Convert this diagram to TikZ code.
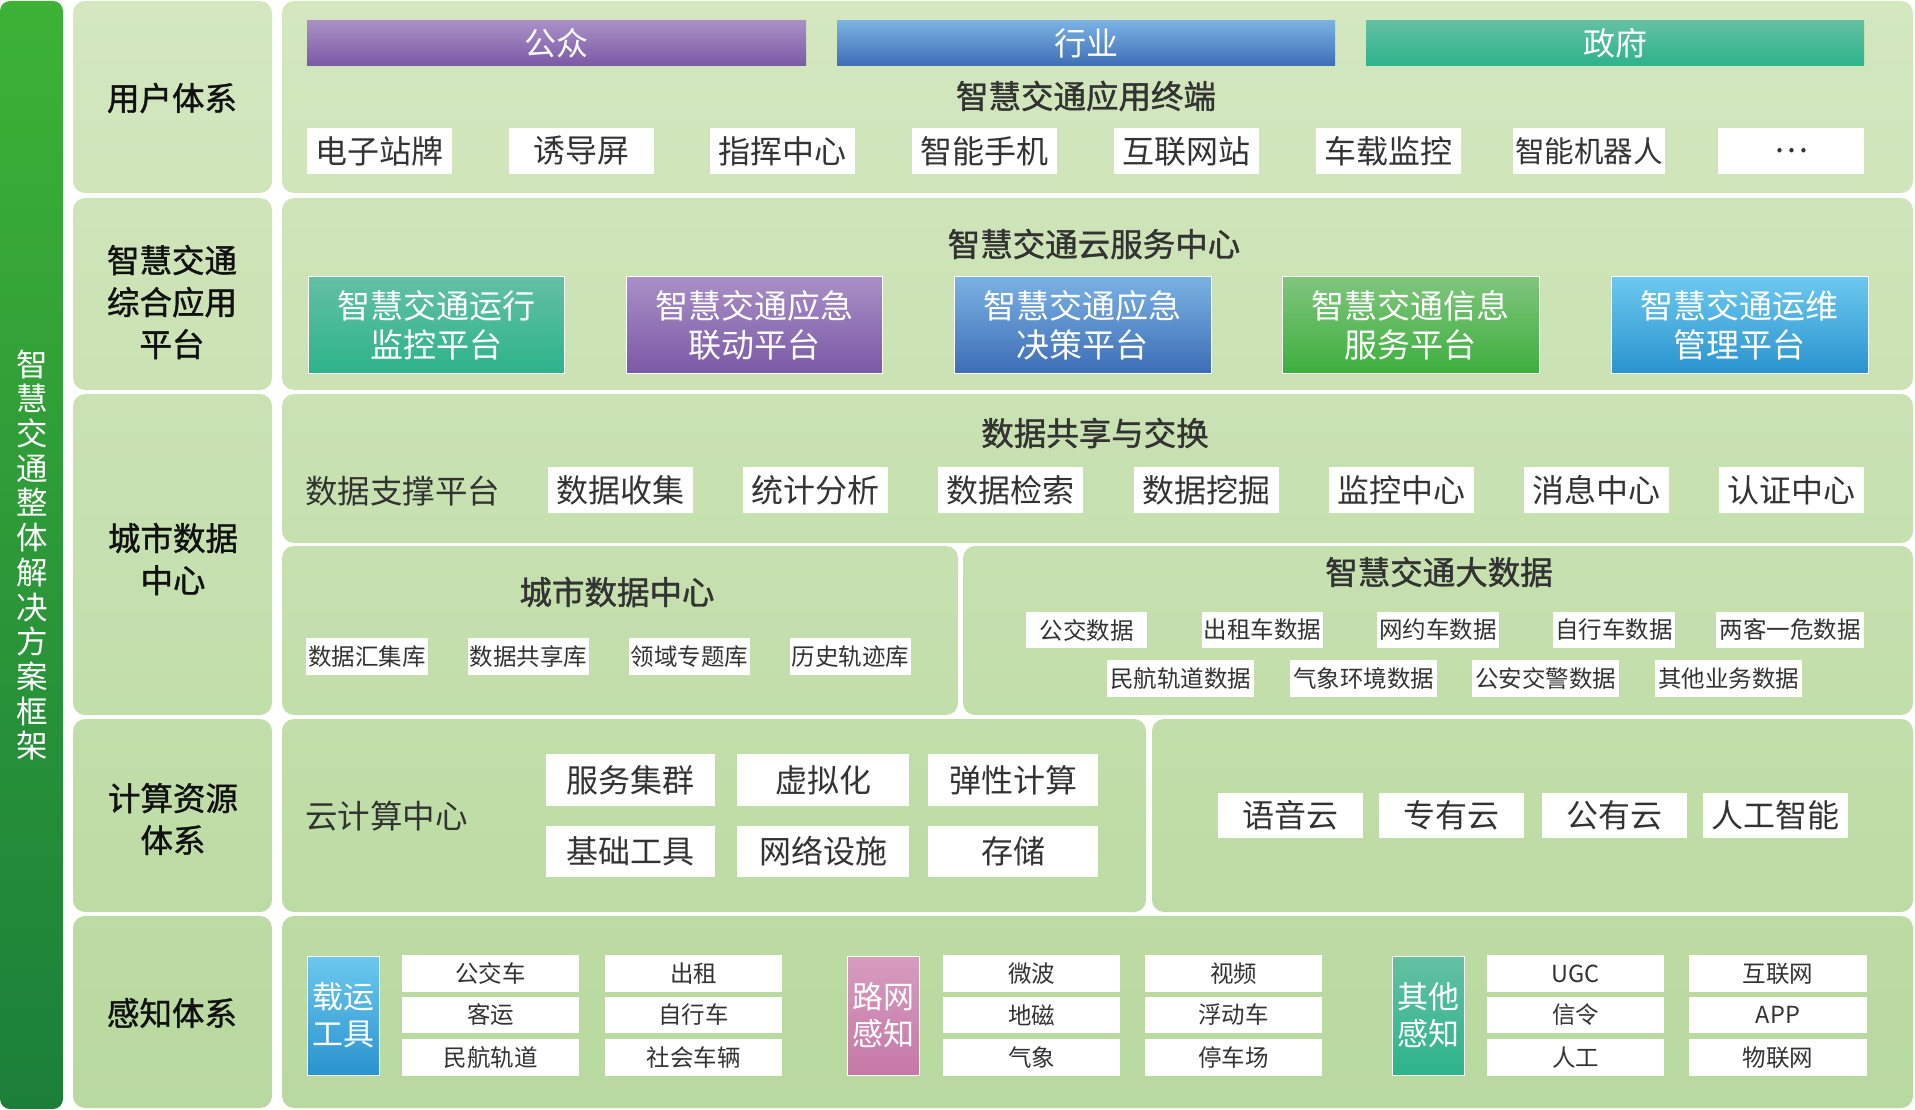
\documentclass[tikz,border=0pt]{standalone}
\usepackage{fontspec}
\setmainfont{Noto Sans CJK SC}
\newfontfamily\hvy[FakeBold=1.2]{Noto Sans CJK SC}
\definecolor{txt}{HTML}{333333}
\definecolor{lbl}{HTML}{111111}
\definecolor{pgtop}{HTML}{D4E7BF}
\definecolor{pgbot}{HTML}{B8D99F}
\definecolor{gbtop}{HTML}{3DB236}
\definecolor{gbbot}{HTML}{1B7F3A}
\definecolor{pu1}{HTML}{A98FC6}\definecolor{pu2}{HTML}{7B59A6}
\definecolor{bl1}{HTML}{7AB2E2}\definecolor{bl2}{HTML}{3D6DB6}
\definecolor{te1}{HTML}{63C0A3}\definecolor{te2}{HTML}{2DB38B}
\definecolor{gr1}{HTML}{80C57D}\definecolor{gr2}{HTML}{3DAF3E}
\definecolor{sk1}{HTML}{6CC9EF}\definecolor{sk2}{HTML}{2A93CE}
\definecolor{pk1}{HTML}{D79CC0}\definecolor{pk2}{HTML}{C578A6}
\newcommand\BX[7]{\node[#1, minimum width={#5pt-#3pt}, minimum height={#6pt-#4pt}] (#2) at ({(#3+#5)/2},{(#4+#6)/2}) {#7};}
\tikzset{
  wb/.style={fill=white, inner sep=0pt, text=txt},
  cb/.style={inner sep=0pt, text=white, align=center},
  f30/.style={font=\fontsize{32}{36}\selectfont},
  f22/.style={font=\fontsize{23.5}{26}\selectfont},
  ttl/.style={inner sep=0pt, text=txt, font=\fontsize{32.5}{36}\selectfont\hvy},
  lab/.style={inner sep=0pt, text=lbl, align=center, font=\fontsize{32.5}{42}\selectfont\hvy},
  pur/.style={top color=pu1, bottom color=pu2},
  blu/.style={top color=bl1, bottom color=bl2},
  tea/.style={top color=te1, bottom color=te2},
  grn/.style={top color=gr1, bottom color=gr2},
  sky/.style={top color=sk1, bottom color=sk2},
  pnk/.style={top color=pk1, bottom color=pk2},
}
\begin{document}
\begin{tikzpicture}[x=1pt,y=-1pt]
\useasboundingbox (0,0) rectangle (1915,1110);
% left bar
\shade[top color=gbtop, bottom color=gbbot, rounded corners=10pt] (0,1) rectangle (63,1109);
\node[inner sep=0pt, text=white, align=center, font=\fontsize{31.5}{34.7}\selectfont] (bar) at (32,555)
 {智\\慧\\交\\通\\整\\体\\解\\决\\方\\案\\框\\架};
% panels
\shade[top color=pgtop, bottom color=pgbot, rounded corners=12pt]
 (73,1) rectangle (272,193) (282,1) rectangle (1913,193)
 (73,198) rectangle (272,390) (282,198) rectangle (1913,390)
 (73,394) rectangle (272,715) (282,394) rectangle (1913,543)
 (282,546) rectangle (958,715) (963,546) rectangle (1913,715)
 (73,719) rectangle (272,912) (282,719) rectangle (1146,912) (1152,719) rectangle (1913,912)
 (73,916) rectangle (272,1108) (282,916) rectangle (1913,1108);
% labels
\node[lab] (l1) at (172,98) {用户体系};
\node[lab] (l2) at (172,302) {智慧交通\\综合应用\\平台};
\node[lab] (l3) at (173,559) {城市数据\\中心};
\node[lab] (l4) at (173,819) {计算资源\\体系};
\node[lab] (l5) at (172,1013) {感知体系};
% row 1
\BX{cb,f30,pur}{u1}{307}{21}{806}{66}{公众}
\BX{cb,f30,blu}{u2}{837}{21}{1335}{66}{行业}
\BX{cb,f30,tea}{u3}{1366}{21}{1864}{66}{政府}
\node[ttl] (t1) at (1086,96) {智慧交通应用终端};
\BX{wb,f30}{a1}{307}{128}{452}{174}{电子站牌}
\BX{wb,f30}{a2}{509}{128}{654}{174}{诱导屏}
\BX{wb,f30}{a3}{710}{128}{855}{174}{指挥中心}
\BX{wb,f30}{a4}{912}{128}{1057}{174}{智能手机}
\BX{wb,f30}{a5}{1114}{128}{1259}{174}{互联网站}
\BX{wb,f30}{a6}{1316}{128}{1461}{174}{车载监控}
\BX{wb,font=\fontsize{29.5}{34}\selectfont}{a7}{1513}{128}{1665}{174}{智能机器人}
\BX{wb,f30}{a8}{1718}{128}{1864}{174}{…}
% row 2
\node[ttl] (t2) at (1094,244) {智慧交通云服务中心};
\tikzset{pf/.style={cb, draw=white, line width=1pt, font=\fontsize{33}{39}\selectfont}}
\BX{pf,tea}{p1}{308}{277}{564}{373}{智慧交通运行\\监控平台}
\BX{pf,pur}{p2}{626}{277}{882}{373}{智慧交通应急\\联动平台}
\BX{pf,blu}{p3}{954}{277}{1211}{373}{智慧交通应急\\决策平台}
\BX{pf,grn}{p4}{1282}{277}{1539}{373}{智慧交通信息\\服务平台}
\BX{pf,sky}{p5}{1611}{277}{1868}{373}{智慧交通运维\\管理平台}
% row 3 top
\node[ttl] (t3) at (1095,433) {数据共享与交换};
\node[inner sep=0pt, text=txt, anchor=west, font=\fontsize{32.5}{36}\selectfont] (dz) at (305,491) {数据支撑平台};
\BX{wb,f30}{d1}{548}{467}{693}{513}{数据收集}
\BX{wb,f30}{d2}{743}{467}{888}{513}{统计分析}
\BX{wb,f30}{d3}{938}{467}{1083}{513}{数据检索}
\BX{wb,f30}{d4}{1134}{467}{1279}{513}{数据挖掘}
\BX{wb,f30}{d5}{1329}{467}{1474}{513}{监控中心}
\BX{wb,f30}{d6}{1524}{467}{1669}{513}{消息中心}
\BX{wb,f30}{d7}{1719}{467}{1864}{513}{认证中心}
% row 3 bottom left
\node[ttl] (t4) at (617,592) {城市数据中心};
\BX{wb,f22}{c1}{306}{638}{428}{675}{数据汇集库}
\BX{wb,f22}{c2}{468}{638}{589}{675}{数据共享库}
\BX{wb,f22}{c3}{629}{638}{750}{675}{领域专题库}
\BX{wb,f22}{c4}{790}{638}{911}{675}{历史轨迹库}
% row 3 bottom right
\node[ttl] (t5) at (1439,572) {智慧交通大数据};
\BX{wb,f22}{b1}{1026}{612}{1147}{648}{公交数据}
\BX{wb,f22}{b2}{1202}{612}{1323}{648}{出租车数据}
\BX{wb,f22}{b3}{1377}{612}{1499}{648}{网约车数据}
\BX{wb,f22}{b4}{1553}{612}{1675}{648}{自行车数据}
\BX{wb,f22}{b5}{1716}{612}{1864}{648}{两客一危数据}
\BX{wb,f22}{b6}{1107}{660}{1254}{697}{民航轨道数据}
\BX{wb,f22}{b7}{1290}{660}{1437}{697}{气象环境数据}
\BX{wb,f22}{b8}{1472}{660}{1619}{697}{公安交警数据}
\BX{wb,f22}{b9}{1655}{660}{1802}{697}{其他业务数据}
% row 4
\node[inner sep=0pt, text=txt, anchor=west, font=\fontsize{32.5}{36}\selectfont] (yj) at (305,816) {云计算中心};
\BX{wb,f30}{k1}{546}{754}{715}{806}{服务集群}
\BX{wb,f30}{k2}{737}{754}{909}{806}{虚拟化}
\BX{wb,f30}{k3}{928}{754}{1098}{806}{弹性计算}
\BX{wb,f30}{k4}{546}{826}{715}{877}{基础工具}
\BX{wb,f30}{k5}{737}{826}{909}{877}{网络设施}
\BX{wb,f30}{k6}{928}{826}{1098}{877}{存储}
\BX{wb,f30}{y1}{1218}{793}{1363}{838}{语音云}
\BX{wb,f30}{y2}{1379}{793}{1524}{838}{专有云}
\BX{wb,f30}{y3}{1542}{793}{1687}{838}{公有云}
\BX{wb,f30}{y4}{1703}{793}{1848}{838}{人工智能}
% row 5
\tikzset{tg/.style={cb, draw=white, line width=0.8pt, font=\fontsize{31}{37}\selectfont}}
\BX{tg,sky}{g1}{307}{956}{379}{1075}{载运\\工具}
\BX{tg,pnk}{g2}{847}{956}{919}{1075}{路网\\感知}
\BX{tg,tea}{g3}{1392}{956}{1464}{1075}{其他\\感知}
\BX{wb,f22}{s11}{402}{955}{579}{992}{公交车}
\BX{wb,f22}{s12}{402}{997}{579}{1033}{客运}
\BX{wb,f22}{s13}{402}{1039}{579}{1076}{民航轨道}
\BX{wb,f22}{s21}{605}{955}{782}{992}{出租}
\BX{wb,f22}{s22}{605}{997}{782}{1033}{自行车}
\BX{wb,f22}{s23}{605}{1039}{782}{1076}{社会车辆}
\BX{wb,f22}{s31}{943}{955}{1120}{992}{微波}
\BX{wb,f22}{s32}{943}{997}{1120}{1033}{地磁}
\BX{wb,f22}{s33}{943}{1039}{1120}{1076}{气象}
\BX{wb,f22}{s41}{1145}{955}{1322}{992}{视频}
\BX{wb,f22}{s42}{1145}{997}{1322}{1033}{浮动车}
\BX{wb,f22}{s43}{1145}{1039}{1322}{1076}{停车场}
\BX{wb,f22}{s51}{1487}{955}{1664}{992}{UGC}
\BX{wb,f22}{s52}{1487}{997}{1664}{1033}{信令}
\BX{wb,f22}{s53}{1487}{1039}{1664}{1076}{人工}
\BX{wb,f22}{s61}{1689}{955}{1867}{992}{互联网}
\BX{wb,f22}{s62}{1689}{997}{1867}{1033}{APP}
\BX{wb,f22}{s63}{1689}{1039}{1867}{1076}{物联网}
\end{tikzpicture}
\end{document}
